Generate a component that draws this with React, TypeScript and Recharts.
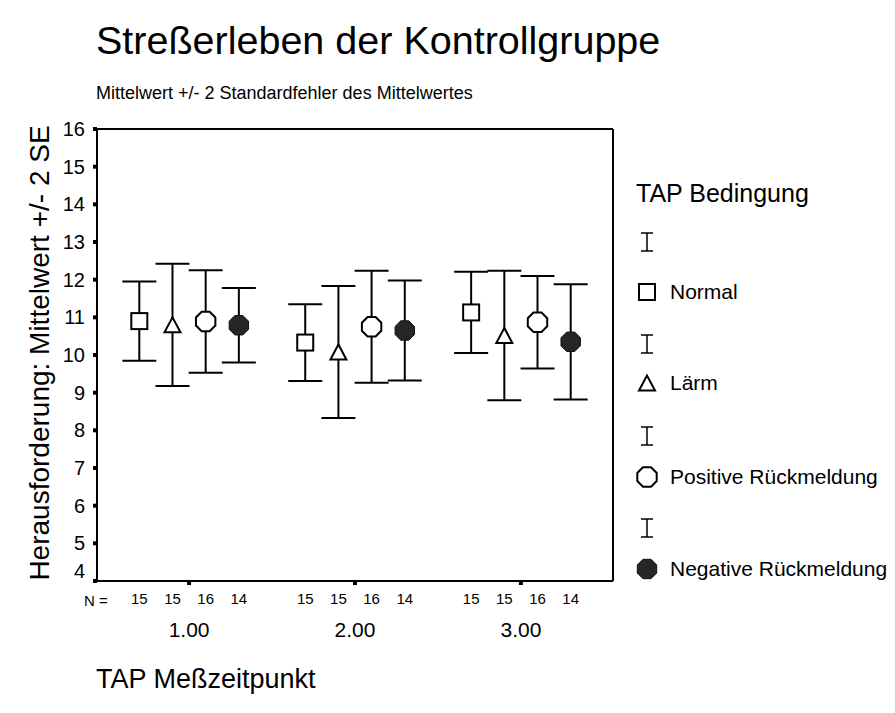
import React from "react";
import { ComposedChart, Scatter, XAxis, YAxis, ErrorBar, ReferenceLine } from "recharts";

const FONT = '"Liberation Sans", Arial, sans-serif';

// measurement times on the x axis
const GROUPS = [1, 2, 3];
const GROUP_LABELS = ["1.00", "2.00", "3.00"];

// conditions, drawn side by side within each group
const CONDITIONS = ["Normal", "Lärm", "Positive Rückmeldung", "Negative Rückmeldung"];
const OFFSETS = [-0.3, -0.1, 0.1, 0.3];

// means per measurement time
const MEAN_NORMAL = [10.9, 10.33, 11.13];
const MEAN_LAERM = [10.8, 10.08, 10.52];
const MEAN_POSITIV = [10.89, 10.75, 10.87];
const MEAN_NEGATIV = [10.79, 10.65, 10.35];

// 2 * standard error of the mean
const SE2_NORMAL = [1.05, 1.02, 1.08];
const SE2_LAERM = [1.62, 1.75, 1.72];
const SE2_POSITIV = [1.36, 1.49, 1.23];
const SE2_NEGATIV = [0.99, 1.33, 1.53];

// group sizes
const N_NORMAL = [15, 15, 15];
const N_LAERM = [15, 15, 15];
const N_POSITIV = [16, 16, 16];
const N_NEGATIV = [14, 14, 14];

const Y_TICKS = [4, 5, 6, 7, 8, 9, 10, 11, 12, 13, 14, 15, 16];
const X_DOMAIN: [number, number] = [0.445, 3.555];

const MEANS = [MEAN_NORMAL, MEAN_LAERM, MEAN_POSITIV, MEAN_NEGATIV];
const SE2S = [SE2_NORMAL, SE2_LAERM, SE2_POSITIV, SE2_NEGATIV];
const NS = [N_NORMAL, N_LAERM, N_POSITIV, N_NEGATIV];

const seriesData = CONDITIONS.map((_, c) =>
  GROUPS.map((g, i) => ({ x: g + OFFSETS[c], y: MEANS[c][i], err: SE2S[c][i] }))
);

// sub-positions for the "N =" row
const nRows: { x: number; y: number; n: string }[] = [];
GROUPS.forEach((g, i) =>
  CONDITIONS.forEach((_, c) => {
    nRows.push({ x: g + OFFSETS[c], y: MEANS[c][i], n: String(NS[c][i]) });
  })
);
const nTicks = nRows.map((r) => r.x);

const octagon = (cx: number, cy: number, r: number) =>
  Array.from({ length: 8 }, (_, k) => {
    const a = ((22.5 + k * 45) * Math.PI) / 180;
    return `${cx + r * Math.cos(a)},${cy + r * Math.sin(a)}`;
  }).join(" ");

const Marker = ({ cx, cy, kind }: { cx: number; cy: number; kind: number }) => {
  if (kind === 0)
    return <rect x={cx - 8} y={cy - 8} width={16} height={16} fill="#fff" stroke="#000" strokeWidth={2} />;
  if (kind === 1)
    return (
      <polygon
        points={`${cx},${cy - 7.5} ${cx - 8},${cy + 7.5} ${cx + 8},${cy + 7.5}`}
        fill="#fff"
        stroke="#000"
        strokeWidth={2}
      />
    );
  if (kind === 2)
    return <polygon points={octagon(cx, cy, 10.5)} fill="#fff" stroke="#000" strokeWidth={2} />;
  return (
    <g>
      <defs>
        <pattern id="hatch" width={2} height={4} patternUnits="userSpaceOnUse">
          <rect width={2} height={4} fill="#111" />
          <line x1={1} y1={0} x2={1} y2={4} stroke="#555" strokeWidth={0.6} />
        </pattern>
      </defs>
      <polygon points={octagon(cx, cy, 10.5)} fill="url(#hatch)" stroke="#111" strokeWidth={1} />
    </g>
  );
};

const YTick = (props: any) => {
  const { x, y, payload } = props;
  return (
    <text x={x} y={payload.value === 4 ? y - 10 : y} dy="0.35em" textAnchor="end" fontSize={20} fontFamily={FONT} fill="#000">
      {payload.value}
    </text>
  );
};

const NTick = (props: any) => {
  const { x, y, index } = props;
  return (
    <text x={x} y={y} dy="0.71em" textAnchor="middle" fontSize={15} fontFamily={FONT} fill="#000">
      {nRows[index]?.n}
    </text>
  );
};

const ErrIcon = () => (
  <svg width={20} height={22} style={{ display: "block" }}>
    <line x1={10} y1={2} x2={10} y2={20} stroke="#000" strokeWidth={1.5} />
    <line x1={4} y1={2} x2={16} y2={2} stroke="#000" strokeWidth={1.5} />
    <line x1={4} y1={20} x2={16} y2={20} stroke="#000" strokeWidth={1.5} />
  </svg>
);

const LEGEND_BAR_Y = [242, 344, 436, 528];
const LEGEND_SYM_Y = [292, 383, 477, 569];

const abs = (left: number, top: number, extra: React.CSSProperties = {}): React.CSSProperties => ({
  position: "absolute",
  left,
  top,
  fontFamily: FONT,
  color: "#000",
  whiteSpace: "nowrap",
  lineHeight: 1,
  ...extra,
});

export default function App() {
  return (
    <div style={{ position: "absolute", left: 0, top: 0, width: 895, height: 713, background: "#fff" }}>
      <div style={abs(96, 21, { fontSize: 39.5 })}>Streßerleben der Kontrollgruppe</div>
      <div style={abs(96, 84, { fontSize: 18 })}>Mittelwert +/- 2 Standardfehler des Mittelwertes</div>
      <div
        style={abs(40, 353, {
          fontSize: 28,
          transform: "translate(-50%, -50%) rotate(-90deg)",
        })}
      >
        Herausforderung: Mittelwert +/- 2 SE
      </div>
      <div style={abs(84, 593, { fontSize: 15 })}>N =</div>
      <div style={abs(96, 666, { fontSize: 27 })}>TAP Meßzeitpunkt</div>

      <ComposedChart
        width={895}
        height={713}
        margin={{ top: 129, right: 282, left: 37, bottom: 94 }}
        style={{ position: "absolute", left: 0, top: 0 }}
      >
        <XAxis
          xAxisId="main"
          type="number"
          dataKey="x"
          domain={X_DOMAIN}
          ticks={GROUPS}
          tickFormatter={(v: number) => GROUP_LABELS[GROUPS.indexOf(v)] ?? ""}
          height={8}
          tickSize={4}
          tickMargin={37}
          axisLine={{ stroke: "#000", strokeWidth: 2 }}
          tickLine={{ stroke: "#000", strokeWidth: 4 }}
          tick={{ fontSize: 21, fontFamily: FONT, fill: "#000" }}
          allowDataOverflow
        />
        <XAxis
          xAxisId="n"
          type="number"
          dataKey="x"
          domain={X_DOMAIN}
          ticks={nTicks}
          height={30}
          tickSize={0}
          axisLine={false}
          tickLine={false}
          tickMargin={4}
          tick={<NTick />}
          interval={0}
          allowDataOverflow
        />
        <YAxis
          type="number"
          domain={[4, 16]}
          ticks={Y_TICKS}
          width={60}
          tickSize={4}
          tickMargin={8}
          interval={0}
          axisLine={{ stroke: "#000", strokeWidth: 2 }}
          tickLine={{ stroke: "#000", strokeWidth: 4 }}
          tick={<YTick />}
          allowDataOverflow
        />
        <ReferenceLine xAxisId="main" y={16} stroke="#000" strokeWidth={2} />
        <ReferenceLine xAxisId="main" x={X_DOMAIN[1]} stroke="#000" strokeWidth={2} />
        {/* carries the group sizes on the lower axis, draws nothing itself */}
        <Scatter
          xAxisId="n"
          data={nRows}
          dataKey="y"
          isAnimationActive={false}
          shape={() => <g />}
          legendType="none"
        />
        {CONDITIONS.map((name, c) => (
          <Scatter
            key={name}
            name={name}
            xAxisId="main"
            data={seriesData[c]}
            dataKey="y"
            isAnimationActive={false}
            shape={(p: any) => <Marker cx={p.cx} cy={p.cy} kind={c} />}
          >
            <ErrorBar dataKey="err" direction="y" width={17} stroke="#000" strokeWidth={2} isAnimationActive={false} />
          </Scatter>
        ))}
      </ComposedChart>

      <div style={abs(636, 181, { fontSize: 25 })}>TAP Bedingung</div>
      {CONDITIONS.map((name, c) => (
        <React.Fragment key={name}>
          <div style={abs(637, LEGEND_BAR_Y[c] - 11)}>
            <ErrIcon />
          </div>
          <div style={abs(633, LEGEND_SYM_Y[c] - 14)}>
            <svg width={28} height={28} style={{ display: "block" }}>
              <Marker cx={14} cy={14} kind={c} />
            </svg>
          </div>
          <div style={abs(670, LEGEND_SYM_Y[c] - 11, { fontSize: 21 })}>{name}</div>
        </React.Fragment>
      ))}
    </div>
  );
}
